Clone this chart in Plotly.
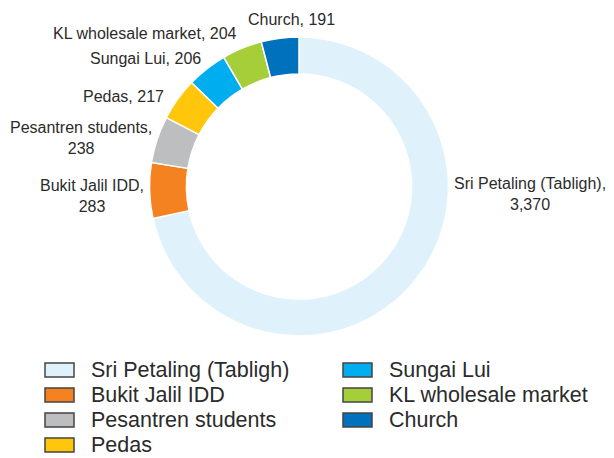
import plotly.graph_objects as go

# sources of infection, clockwise from 12 o'clock
clusters = ["Sri Petaling (Tabligh)", "Bukit Jalil IDD", "Pesantren students",
            "Pedas", "Sungai Lui", "KL wholesale market", "Church"]
cases = [3370, 283, 238, 217, 206, 204, 191]
colors = ["#dff2fb", "#f58220", "#bcbec0", "#ffc60b", "#00aeef", "#a6ce39", "#0071bc"]
# which labels wrap the number onto a second line
wrap_label = [True, True, True, False, False, False, False]

# page has an 8px body margin, so work in window pixels and shift
OFF = 8
W, H = 614 - OFF, 458 - OFF
FONT = "Liberation Sans, Arial, sans-serif"
TXT = "#2b2b2b"


def px(x, y):
    return (x - OFF) / W, 1 - (y - OFF) / H


# hand-placed label anchors (window px): x, y, xanchor
label_pos = [(530, 194, "center"), (146, 196, "right"), (154, 138, "right"),
             (166, 96, "right"), (203, 58, "right"), (239, 33, "right"),
             (337, 20, "right")]

cx, cy, r = 299, 186.5, 149.5
x0, y1 = px(cx - r, cy - r)
x1, y0 = px(cx + r, cy + r)

fig = go.Figure()
fig.add_trace(go.Pie(
    labels=clusters, values=cases, sort=False, direction="clockwise", rotation=0,
    hole=0.753,
    marker=dict(colors=colors, line=dict(color="white", width=1.5)),
    textinfo="none", hoverinfo="label+value",
    domain=dict(x=[x0, x1], y=[y0, y1]),
    showlegend=False,
))

annotations = []
for name, val, wrap, (lx, ly, anc) in zip(clusters, cases, wrap_label, label_pos):
    sep = ",<br>" if wrap else ", "
    ax, ay = px(lx, ly)
    annotations.append(dict(text=f"{name}{sep}{val:,}", xref="paper", yref="paper",
                            x=ax, y=ay, xanchor=anc, yanchor="middle", align="center",
                            showarrow=False, font=dict(family=FONT, size=16, color=TXT)))

# legend drawn by hand: 2 columns, column-major like the original
shapes = []
per_col = 4
for i, (name, col) in enumerate(zip(clusters, colors)):
    c, rr = divmod(i, per_col)
    sx = 45 + c * 298
    sy = 370 + rr * 25
    ax0, ay1 = px(sx, sy - 7)
    ax1, ay0 = px(sx + 29, sy + 7)
    shapes.append(dict(type="rect", xref="paper", yref="paper",
                       x0=ax0, x1=ax1, y0=ay0, y1=ay1,
                       fillcolor=col, line=dict(color="#444444", width=1.5)))
    tx, ty = px(sx + 44, sy)
    annotations.append(dict(text=name, xref="paper", yref="paper",
                            x=tx, y=ty, xanchor="left", yanchor="middle", showarrow=False,
                            font=dict(family=FONT, size=21.5, color=TXT)))

fig.update_layout(
    width=W, height=H,
    margin=dict(l=0, r=0, t=0, b=0),
    paper_bgcolor="white", plot_bgcolor="white",
    shapes=shapes, annotations=annotations,
)
fig.write_html("out.html")
